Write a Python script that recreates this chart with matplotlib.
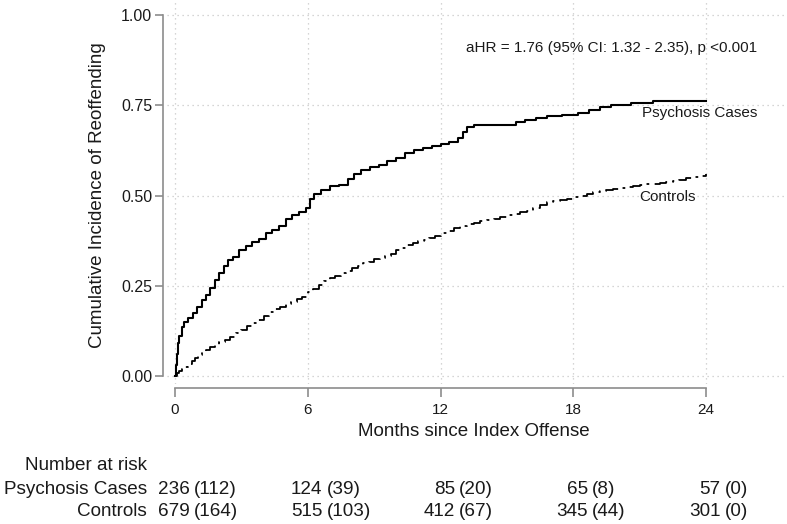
import matplotlib
matplotlib.use("Agg")
import matplotlib.pyplot as plt
from matplotlib.transforms import blended_transform_factory

plt.rcParams["font.family"] = ["Liberation Sans", "DejaVu Sans"]

# cumulative incidence, psychosis cases (step points)
psy_t = [0, 0.05, 0.1, 0.15, 0.2, 0.3, 0.4, 0.6, 0.8, 1.0, 1.2, 1.4, 1.6, 1.8,
         2.0, 2.2, 2.4, 2.6, 2.9, 3.2, 3.5, 3.8, 4.1, 4.4, 4.7, 5.0, 5.3, 5.6,
         5.9, 6.1, 6.3, 6.6, 7.0, 7.4, 7.8, 8.1, 8.4, 8.8, 9.2, 9.6, 10.0, 10.4,
         10.8, 11.2, 11.6, 12.0, 12.4, 12.8, 13.0, 13.2, 13.5, 15.4, 15.8, 16.3,
         16.8, 17.5, 18.2, 18.7, 19.2, 19.7, 20.6, 21.6, 24.0]
psy_v = [0, 0.03, 0.06, 0.09, 0.11, 0.135, 0.15, 0.16, 0.175, 0.19, 0.21, 0.225,
         0.245, 0.265, 0.285, 0.305, 0.32, 0.33, 0.35, 0.36, 0.37, 0.38, 0.395,
         0.405, 0.415, 0.435, 0.445, 0.455, 0.465, 0.49, 0.505, 0.515, 0.525,
         0.53, 0.545, 0.56, 0.57, 0.578, 0.585, 0.595, 0.605, 0.617, 0.625,
         0.632, 0.637, 0.643, 0.648, 0.66, 0.675, 0.69, 0.695, 0.703, 0.71,
         0.716, 0.72, 0.724, 0.728, 0.737, 0.745, 0.752, 0.755, 0.762, 0.762]

# cumulative incidence, controls
ctl_t = [0, 0.1, 0.2, 0.3, 0.45, 0.6, 0.75, 0.9, 1.05, 1.2, 1.4, 1.6, 1.8, 2.0,
         2.25, 2.5, 2.75, 3.0, 3.25, 3.5, 3.75, 4.0, 4.25, 4.5, 4.75, 5.0,
         5.25, 5.5, 5.75, 6.0, 6.25, 6.5, 6.75, 7.0, 7.25, 7.5, 7.75, 8.0,
         8.25, 8.5, 8.75, 9.0, 9.25, 9.5, 9.75, 10.0, 10.25, 10.5, 10.75, 11.0,
         11.25, 11.5, 11.75, 12.0, 12.3, 12.6, 12.9, 13.2, 13.5, 13.8, 14.1,
         14.4, 14.7, 15.0, 15.3, 15.6, 15.9, 16.2, 16.5, 16.8, 17.1, 17.4,
         17.7, 18.0, 18.3, 18.6, 18.9, 19.2, 19.5, 19.8, 20.1, 20.4, 20.7,
         21.0, 21.3, 21.6, 21.9, 22.2, 22.5, 22.8, 23.1, 23.4, 23.7, 24.0]
ctl_v = [0, 0.007, 0.013, 0.019, 0.026, 0.034, 0.042, 0.05, 0.058, 0.066,
         0.073, 0.08, 0.087, 0.094, 0.1, 0.108, 0.118, 0.128, 0.138, 0.147,
         0.155, 0.166, 0.176, 0.185, 0.192, 0.199, 0.204, 0.212, 0.22, 0.232,
         0.242, 0.252, 0.262, 0.272, 0.278, 0.285, 0.292, 0.3, 0.306, 0.312,
         0.317, 0.323, 0.328, 0.333, 0.338, 0.348, 0.355, 0.362, 0.368, 0.373,
         0.378, 0.383, 0.389, 0.395, 0.403, 0.41, 0.416, 0.422, 0.425, 0.428,
         0.431, 0.436, 0.441, 0.445, 0.449, 0.453, 0.458, 0.466, 0.474, 0.482,
         0.485, 0.488, 0.491, 0.496, 0.5, 0.505, 0.509, 0.513, 0.516, 0.519,
         0.522, 0.524, 0.526, 0.528, 0.531, 0.533, 0.535, 0.537, 0.54, 0.544,
         0.548, 0.551, 0.555, 0.559]

risk_times = [0, 6, 12, 18, 24]
risk_groups = ["Psychosis Cases", "Controls"]
psy_risk = [236, 124, 85, 65, 57]
psy_cens = [112, 39, 20, 8, 0]
ctl_risk = [679, 515, 412, 345, 301]
ctl_cens = [164, 103, 67, 44, 0]

yticks = [0, 0.25, 0.5, 0.75, 1.0]
ytick_labels = ["0.00", "0.25", "0.50", "0.75", "1.00"]

gray = "#8c8c8c"
txt = "#1a1a1a"

fig = plt.figure(figsize=(7.87, 5.24), dpi=100)
ax = fig.add_axes([167 / 787, 1 - 384 / 524, 620 / 787, 384 / 524])
ax.set_xlim(-0.3616, 27.66)
ax.set_ylim(-0.0222, 1.0416)

ax.plot(psy_t, psy_v, drawstyle="steps-post", color="black", lw=1.5,
        clip_on=False)
ax.plot(ctl_t, ctl_v, drawstyle="steps-post", color="black", lw=1.3,
        dashes=(8, 3, 1.5, 3), clip_on=False)

ax.set_xticks(risk_times)
ax.set_yticks(yticks)
ax.set_yticklabels(ytick_labels)
ax.grid(True, ls=(0, (1, 3)), color="#c8c8c8", lw=0.9)
ax.set_axisbelow(True)

for s in ["top", "right"]:
    ax.spines[s].set_visible(False)
ax.spines["left"].set_position(("outward", 2.9))
ax.spines["bottom"].set_position(("outward", 2.9))
ax.spines["left"].set_bounds(0, 1)
ax.spines["bottom"].set_bounds(0, 24)
for s in ["left", "bottom"]:
    ax.spines[s].set_color(gray)
    ax.spines[s].set_linewidth(1.2)
ax.tick_params(axis="y", length=5.8, width=1.2, color=gray, pad=2,
               labelsize=11.5, labelcolor=txt)
ax.tick_params(axis="x", length=6.5, width=1.2, color=gray, pad=4,
               labelsize=11, labelcolor=txt)

ax.text(21.1, 0.728, "Psychosis Cases", fontsize=11, va="center",
        color=txt, clip_on=False)
ax.text(21.0, 0.496, "Controls", fontsize=11, va="center", color=txt,
        clip_on=False)
ax.text(26.3, 0.909, "aHR = 1.76 (95% CI: 1.32 - 2.35), p <0.001",
        fontsize=11, ha="right", va="center", color=txt)

fig.text(98 / 787, 1 - 195 / 524, "Cumulative Incidence of Reoffending",
         rotation=90, fontsize=13.5, ha="center", va="center", color=txt)
fig.text(474 / 787, 1 - 432 / 524, "Months since Index Offense",
         fontsize=13.5, ha="center", va="center", color=txt)

# number at risk table
tr = blended_transform_factory(ax.transData, fig.transFigure)
fig.text(147 / 787, 1 - 466 / 524, "Number at risk", fontsize=13.6,
         ha="right", va="center", color=txt)
rows_y = [1 - 490 / 524, 1 - 511 / 524]
for g, y, risk, cens in zip(risk_groups, rows_y, [psy_risk, ctl_risk],
                            [psy_cens, ctl_cens]):
    fig.text(147 / 787, y, g, fontsize=13.6, ha="right", va="center",
             color=txt)
    for t, n, c in zip(risk_times, risk, cens):
        ax.text(t + 0.65, y, str(n), transform=tr, fontsize=13.6, ha="right",
                va="center", color=txt, clip_on=False)
        ax.text(t + 0.85, y, f"({c})", transform=tr, fontsize=13.6,
                ha="left", va="center", color=txt, clip_on=False)

fig.savefig("out.png", dpi=100)
